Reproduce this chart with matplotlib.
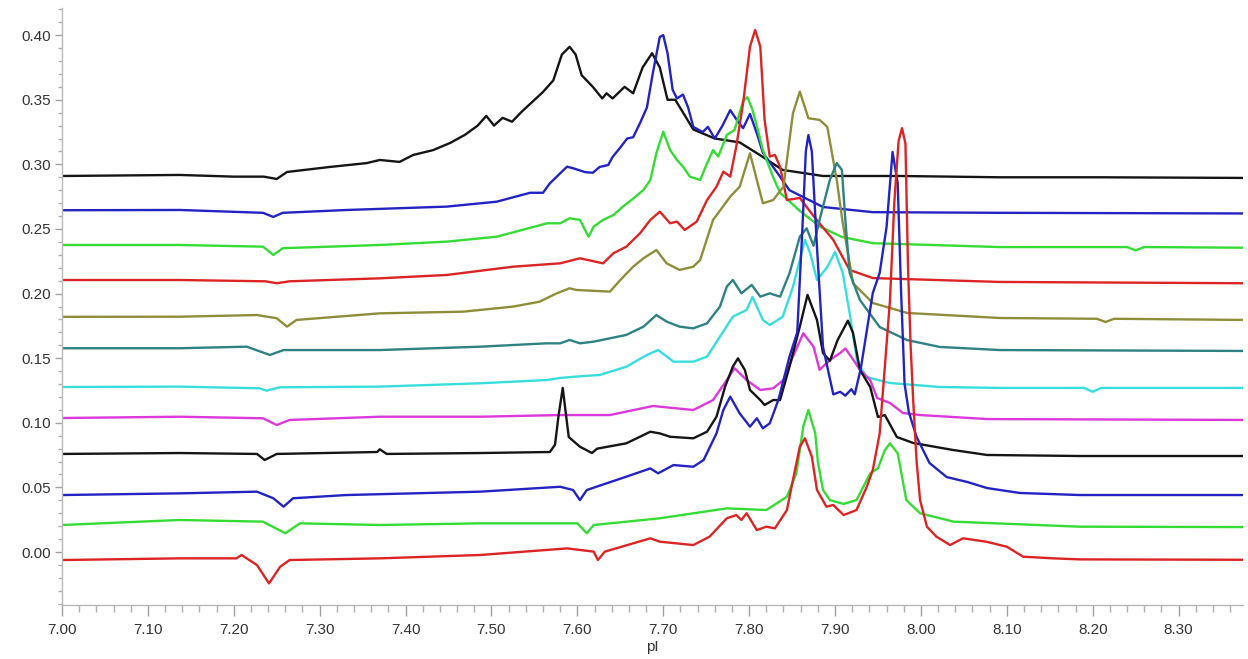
import numpy as np
import matplotlib
matplotlib.use("Agg")
import matplotlib.pyplot as plt
from matplotlib.ticker import MultipleLocator, FormatStrFormatter

# 读图得到的各条曲线 (pI, 吸光度)，从上到下
x_black1 = [7.00, 7.137, 7.20, 7.235, 7.250, 7.262, 7.312, 7.355, 7.370, 7.393, 7.409, 7.432, 7.452,
            7.469, 7.484, 7.494, 7.503, 7.513, 7.524, 7.535, 7.547, 7.560, 7.572, 7.582, 7.591, 7.598,
            7.605, 7.618, 7.629, 7.634, 7.641, 7.655, 7.665, 7.676, 7.687, 7.696, 7.705, 7.714, 7.735,
            7.760, 7.789, 7.813, 7.839, 7.886, 7.976, 8.092, 8.208, 8.375]
y_black1 = [0.291, 0.2918, 0.2905, 0.2905, 0.2887, 0.2941, 0.298, 0.301, 0.3034, 0.3019, 0.3073, 0.311,
            0.3166, 0.3228, 0.330, 0.3375, 0.330, 0.336, 0.333, 0.3406, 0.348, 0.356, 0.365, 0.385,
            0.391, 0.385, 0.369, 0.360, 0.351, 0.355, 0.351, 0.360, 0.355, 0.375, 0.386, 0.375, 0.350,
            0.350, 0.327, 0.320, 0.317, 0.307, 0.2957, 0.291, 0.291, 0.290, 0.290, 0.2895]

x_blue1 = [7.00, 7.137, 7.234, 7.246, 7.257, 7.332, 7.448, 7.506, 7.545, 7.560, 7.568, 7.588, 7.595,
           7.609, 7.618, 7.626, 7.636, 7.641, 7.650, 7.658, 7.665, 7.673, 7.681, 7.688, 7.696, 7.700,
           7.705, 7.711, 7.716, 7.723, 7.729, 7.735, 7.746, 7.752, 7.760, 7.769, 7.778, 7.786, 7.793,
           7.801, 7.809, 7.816, 7.828, 7.847, 7.886, 7.944, 8.092, 8.375]
y_blue1 = [0.2645, 0.2647, 0.2625, 0.2593, 0.2625, 0.2647, 0.2673, 0.2711, 0.278, 0.278, 0.2853, 0.2982,
           0.297, 0.294, 0.2935, 0.298, 0.2995, 0.3057, 0.313, 0.320, 0.321, 0.332, 0.344, 0.371,
           0.3986, 0.400, 0.386, 0.3576, 0.351, 0.354, 0.344, 0.329, 0.325, 0.329, 0.320, 0.330,
           0.342, 0.334, 0.328, 0.339, 0.324, 0.309, 0.298, 0.280, 0.267, 0.263, 0.2625, 0.262]

x_green1 = [7.00, 7.137, 7.234, 7.246, 7.257, 7.370, 7.448, 7.506, 7.565, 7.580, 7.591, 7.603, 7.613,
            7.619, 7.630, 7.642, 7.653, 7.663, 7.677, 7.685, 7.692, 7.700, 7.708, 7.716, 7.723, 7.731,
            7.743, 7.751, 7.758, 7.764, 7.774, 7.783, 7.793, 7.798, 7.804, 7.810, 7.816, 7.828, 7.836,
            7.859, 7.882, 7.908, 7.944, 8.092, 8.240, 8.250, 8.260, 8.375]
y_green1 = [0.2376, 0.2376, 0.2363, 0.2299, 0.2351, 0.2376, 0.2402, 0.2440, 0.2544, 0.2544, 0.2583,
            0.2570, 0.2440, 0.2518, 0.2570, 0.2608, 0.2673, 0.2724, 0.2802, 0.2879, 0.3086, 0.3253,
            0.3111, 0.3034, 0.2982, 0.2905, 0.2879, 0.3008, 0.3111, 0.3060, 0.3228, 0.3266, 0.349,
            0.352, 0.342, 0.327, 0.311, 0.290, 0.278, 0.264, 0.252, 0.2438, 0.239, 0.236, 0.236,
            0.2335, 0.236, 0.2355]

x_red1 = [7.00, 7.137, 7.237, 7.250, 7.265, 7.370, 7.448, 7.525, 7.580, 7.603, 7.630, 7.642, 7.657,
          7.673, 7.685, 7.696, 7.708, 7.716, 7.725, 7.739, 7.751, 7.762, 7.770, 7.778, 7.785, 7.793,
          7.801, 7.807, 7.813, 7.818, 7.824, 7.830, 7.836, 7.844, 7.859, 7.875, 7.898, 7.917, 7.944,
          8.092, 8.375]
y_red1 = [0.2105, 0.2105, 0.2095, 0.2080, 0.2095, 0.2118, 0.2144, 0.2208, 0.2234, 0.2273, 0.2234,
          0.2312, 0.2363, 0.2467, 0.2570, 0.2634, 0.2544, 0.2557, 0.2492, 0.2557, 0.2724, 0.2827,
          0.2944, 0.2905, 0.3137, 0.3473, 0.3911, 0.4040, 0.3911, 0.3344, 0.3060, 0.3073, 0.2982,
          0.2724, 0.2740, 0.2600, 0.2415, 0.2183, 0.212, 0.209, 0.208]

x_olive = [7.00, 7.137, 7.227, 7.250, 7.262, 7.273, 7.370, 7.467, 7.525, 7.556, 7.576, 7.591, 7.599,
           7.638, 7.650, 7.665, 7.677, 7.692, 7.704, 7.719, 7.735, 7.743, 7.758, 7.778, 7.789, 7.801,
           7.809, 7.816, 7.828, 7.840, 7.851, 7.859, 7.869, 7.882, 7.891, 7.902, 7.909, 7.921, 7.944,
           7.984, 8.092, 8.205, 8.215, 8.225, 8.375]
y_olive = [0.182, 0.1821, 0.1834, 0.1809, 0.1744, 0.1796, 0.1847, 0.1860, 0.1899, 0.1937, 0.2002,
           0.2041, 0.2028, 0.2015, 0.2105, 0.2208, 0.2273, 0.2337, 0.2234, 0.2183, 0.2208, 0.2260,
           0.2570, 0.2750, 0.2827, 0.3086, 0.2879, 0.2699, 0.2724, 0.2827, 0.3395, 0.3563, 0.3357,
           0.3344, 0.329, 0.288, 0.2546, 0.208, 0.1927, 0.185, 0.1811, 0.1805, 0.178, 0.1805, 0.1796]

x_teal = [7.00, 7.137, 7.215, 7.242, 7.258, 7.370, 7.487, 7.564, 7.580, 7.591, 7.603, 7.619, 7.657,
          7.677, 7.692, 7.704, 7.719, 7.735, 7.751, 7.766, 7.774, 7.781, 7.791, 7.803, 7.813, 7.824,
          7.836, 7.847, 7.859, 7.867, 7.875, 7.882, 7.894, 7.902, 7.908, 7.912, 7.917, 7.929, 7.952,
          7.984, 8.022, 8.092, 8.375]
y_teal = [0.1577, 0.1577, 0.1589, 0.1525, 0.1563, 0.1563, 0.1589, 0.1615, 0.1615, 0.1641, 0.1615,
          0.1628, 0.1680, 0.1744, 0.1834, 0.1783, 0.1744, 0.1731, 0.1770, 0.1899, 0.2054, 0.2105,
          0.2002, 0.2067, 0.1976, 0.2002, 0.1976, 0.2157, 0.2440, 0.2505, 0.2370, 0.257, 0.288,
          0.301, 0.2957, 0.257, 0.216, 0.195, 0.1741, 0.164, 0.1587, 0.1563, 0.1556]

x_cyan = [7.00, 7.137, 7.230, 7.238, 7.254, 7.370, 7.487, 7.565, 7.580, 7.603, 7.626, 7.657, 7.681,
          7.694, 7.712, 7.735, 7.751, 7.766, 7.781, 7.797, 7.804, 7.816, 7.824, 7.839, 7.851, 7.865,
          7.871, 7.879, 7.891, 7.900, 7.909, 7.917, 7.926, 7.937, 7.964, 8.022, 8.092, 8.190, 8.200,
          8.210, 8.375]
y_cyan = [0.1277, 0.1280, 0.1267, 0.1249, 0.1275, 0.1280, 0.1306, 0.1331, 0.1347, 0.136, 0.137,
          0.1434, 0.1525, 0.1563, 0.1473, 0.1473, 0.1512, 0.1667, 0.1821, 0.1873, 0.1974, 0.1796,
          0.1757, 0.182, 0.2051, 0.2415, 0.2314, 0.2105, 0.2206, 0.2322, 0.216, 0.185, 0.1463,
          0.1354, 0.1308, 0.1277, 0.127, 0.127, 0.124, 0.127, 0.127]

x_magenta = [7.00, 7.137, 7.234, 7.250, 7.265, 7.370, 7.487, 7.580, 7.638, 7.688, 7.735, 7.758, 7.774,
             7.783, 7.797, 7.813, 7.828, 7.840, 7.851, 7.863, 7.875, 7.882, 7.894, 7.906, 7.912, 7.920,
             7.929, 7.941, 7.949, 7.964, 7.979, 7.999, 8.077, 8.375]
y_magenta = [0.1037, 0.1047, 0.1035, 0.0983, 0.1022, 0.1047, 0.1047, 0.1060, 0.1060, 0.1130, 0.1099,
             0.1176, 0.1331, 0.1422, 0.1331, 0.1254, 0.1267, 0.1331, 0.1512, 0.1693, 0.1589, 0.141,
             0.1486, 0.154, 0.1575, 0.150, 0.141, 0.133, 0.1192, 0.1153, 0.1076, 0.106, 0.1029, 0.1022]

x_black2 = [7.00, 7.137, 7.227, 7.236, 7.250, 7.367, 7.370, 7.378, 7.487, 7.568, 7.574, 7.578, 7.583,
            7.587, 7.590, 7.603, 7.617, 7.623, 7.657, 7.685, 7.696, 7.708, 7.735, 7.751, 7.762, 7.772,
            7.781, 7.787, 7.795, 7.801, 7.813, 7.818, 7.828, 7.836, 7.847, 7.859, 7.868, 7.879, 7.886,
            7.894, 7.903, 7.915, 7.921, 7.929, 7.941, 7.950, 7.958, 7.972, 7.991, 8.037, 8.077, 8.185,
            8.375]
y_black2 = [0.0759, 0.0766, 0.0759, 0.0712, 0.0759, 0.0774, 0.0795, 0.0759, 0.0766, 0.0774, 0.083,
            0.105, 0.127, 0.105, 0.089, 0.0815, 0.0766, 0.080, 0.0841, 0.0931, 0.0918, 0.0892, 0.0880,
            0.0931, 0.1047, 0.1279, 0.1434, 0.1499, 0.1409, 0.1254, 0.1176, 0.1138, 0.1176, 0.1176,
            0.1434, 0.1744, 0.199, 0.1796, 0.154, 0.148, 0.164, 0.179, 0.1695, 0.141, 0.1277, 0.1045,
            0.106, 0.089, 0.0844, 0.079, 0.0751, 0.0743, 0.0743]

x_blue2 = [7.00, 7.137, 7.227, 7.246, 7.258, 7.269, 7.331, 7.487, 7.580, 7.595, 7.603, 7.611, 7.657,
           7.685, 7.694, 7.712, 7.735, 7.747, 7.762, 7.770, 7.778, 7.789, 7.801, 7.809, 7.816, 7.824,
           7.834, 7.847, 7.856, 7.862, 7.866, 7.869, 7.873, 7.879, 7.886, 7.898, 7.906, 7.912, 7.919,
           7.923, 7.930, 7.944, 7.952, 7.960, 7.967, 7.973, 7.977, 7.981, 7.986, 7.995, 8.010, 8.030,
           8.054, 8.077, 8.115, 8.185, 8.375]
y_blue2 = [0.0441, 0.0454, 0.0467, 0.0416, 0.0351, 0.0416, 0.0441, 0.0467, 0.0505, 0.0480, 0.0402,
           0.0480, 0.0583, 0.0647, 0.0609, 0.0673, 0.0660, 0.0712, 0.0918, 0.1099, 0.1202, 0.1073,
           0.0970, 0.1035, 0.0957, 0.0996, 0.1176, 0.1512, 0.17, 0.25, 0.31, 0.3227, 0.31, 0.236,
           0.1587, 0.122, 0.124, 0.121, 0.126, 0.122, 0.142, 0.2005, 0.216, 0.2515, 0.3096, 0.285,
           0.20, 0.13, 0.108, 0.089, 0.0689, 0.058, 0.0542, 0.0495, 0.0457, 0.0441, 0.0441]

x_green2 = [7.00, 7.137, 7.234, 7.260, 7.277, 7.370, 7.487, 7.600, 7.611, 7.619, 7.696, 7.774, 7.820,
            7.844, 7.855, 7.863, 7.869, 7.877, 7.880, 7.886, 7.894, 7.910, 7.925, 7.941, 7.950, 7.958,
            7.964, 7.973, 7.983, 7.999, 8.038, 8.185, 8.375]
y_green2 = [0.0209, 0.0248, 0.0235, 0.0145, 0.0222, 0.0209, 0.0222, 0.0222, 0.0145, 0.0209, 0.0261,
            0.0338, 0.0325, 0.0428, 0.0609, 0.0970, 0.1099, 0.0918, 0.070, 0.048, 0.0402, 0.0372,
            0.0402, 0.0609, 0.0648, 0.0789, 0.0841, 0.0764, 0.0402, 0.0300, 0.0235, 0.0196, 0.0193]

x_red2 = [7.00, 7.137, 7.203, 7.209, 7.227, 7.241, 7.254, 7.265, 7.370, 7.487, 7.588, 7.619, 7.624,
          7.632, 7.685, 7.696, 7.735, 7.754, 7.774, 7.785, 7.791, 7.797, 7.809, 7.820, 7.830, 7.844,
          7.851, 7.859, 7.865, 7.873, 7.879, 7.890, 7.898, 7.910, 7.925, 7.937, 7.944, 7.952, 7.958,
          7.964, 7.969, 7.974, 7.978, 7.982, 7.985, 7.988, 7.991, 7.995, 7.999, 8.007, 8.018, 8.034,
          8.049, 8.076, 8.100, 8.119, 8.154, 8.185, 8.375]
y_red2 = [-0.0062, -0.0049, -0.0049, -0.0023, -0.0101, -0.0243, -0.0114, -0.0062, -0.0049, -0.0023,
          0.0028, 0.0003, -0.0062, 0.0003, 0.0106, 0.0080, 0.0054, 0.0119, 0.0261, 0.0286, 0.0248,
          0.0300, 0.0170, 0.0196, 0.0183, 0.0325, 0.0557, 0.0815, 0.0880, 0.0738, 0.0480, 0.0351,
          0.0364, 0.0286, 0.0325, 0.0505, 0.0635, 0.0918, 0.1434, 0.195, 0.27, 0.318, 0.328, 0.316,
          0.22, 0.16, 0.1176, 0.07, 0.0402, 0.0196, 0.0119, 0.0054, 0.0106, 0.0080, 0.0041, -0.0036,
          -0.0049, -0.0057, -0.006]

curves = [
    (x_black1, y_black1, '#151515'),
    (x_blue1, y_blue1, '#2323c3'),
    (x_green1, y_green1, '#35dc35'),
    (x_red1, y_red1, '#dc2424'),
    (x_olive, y_olive, '#8e8e3a'),
    (x_teal, y_teal, '#2e8282'),
    (x_cyan, y_cyan, '#38dede'),
    (x_magenta, y_magenta, '#dc38dc'),
    (x_black2, y_black2, '#151515'),
    (x_blue2, y_blue2, '#2323c3'),
    (x_green2, y_green2, '#35dc35'),
    (x_red2, y_red2, '#dc2424'),
]

plt.rcParams['font.family'] = ['Liberation Sans', 'DejaVu Sans']

fig = plt.figure(figsize=(12.48, 6.59), dpi=100)
ax = fig.add_axes([62 / 1248, 54 / 659, (1243 - 62) / 1248, (605 - 8) / 659])

for xs, ys, c in curves:
    ax.plot(xs, ys, color=c, lw=1.7, solid_joinstyle='round')

ax.set_xlim(7.0, 8.375)
ax.set_ylim(-0.041, 0.421)

# 坐标轴样式
for side in ['top', 'right']:
    ax.spines[side].set_visible(False)
for side in ['left', 'bottom']:
    ax.spines[side].set_color('#b8b8b8')
    ax.spines[side].set_linewidth(1.0)

ax.xaxis.set_major_locator(MultipleLocator(0.1))
ax.xaxis.set_minor_locator(MultipleLocator(0.02))
ax.yaxis.set_major_locator(MultipleLocator(0.05))
ax.yaxis.set_minor_locator(MultipleLocator(0.01))
ax.xaxis.set_major_formatter(FormatStrFormatter('%.2f'))
ax.yaxis.set_major_formatter(FormatStrFormatter('%.2f'))

ax.tick_params(axis='x', which='major', length=8, width=1, color='#a0a0a0', pad=5,
               labelsize=11, labelcolor='#333333')
ax.tick_params(axis='x', which='minor', length=5, width=1, color='#b0b0b0')
ax.tick_params(axis='y', which='major', length=5, width=1, color='#a0a0a0', pad=3,
               labelsize=11, labelcolor='#333333')
ax.tick_params(axis='y', which='minor', length=3, width=1, color='#b0b0b0')

ax.set_xlabel('pI', fontsize=11, color='#333333', labelpad=2)

fig.savefig('out.png', dpi=100)
